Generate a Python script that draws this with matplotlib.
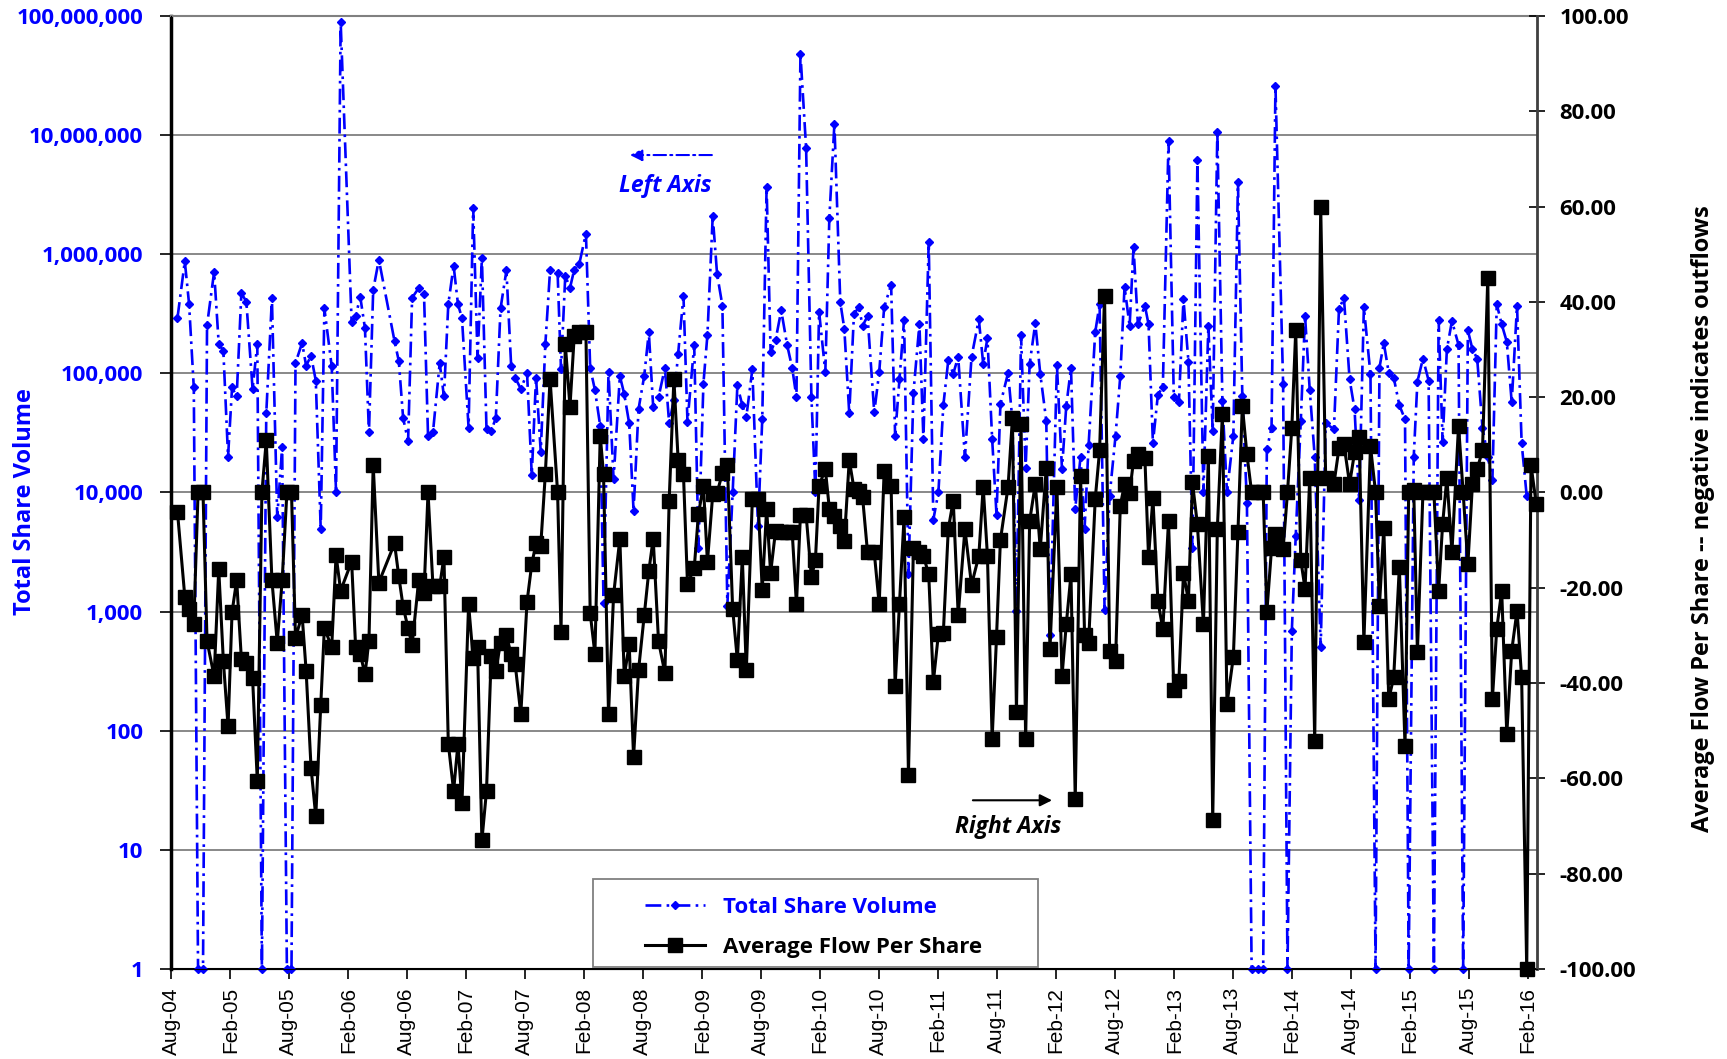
import matplotlib
matplotlib.use("Agg")
import matplotlib.pyplot as plt
import matplotlib.dates as mdates
from matplotlib.ticker import FuncFormatter, NullLocator, FixedLocator
from matplotlib.lines import Line2D
from matplotlib.patches import Rectangle
from datetime import datetime
import numpy as np

# Dates as decimal years (roughly semi-monthly)
dec_years = [
    2004.637, 2004.699, 2004.735, 2004.775, 2004.811, 2004.853, 2004.887, 2004.947, 2004.986, 2005.025,
    2005.065, 2005.099, 2005.138, 2005.178, 2005.220, 2005.273, 2005.313, 2005.352, 2005.389, 2005.437,
    2005.482, 2005.524, 2005.564, 2005.603, 2005.637, 2005.693, 2005.727, 2005.769, 2005.809, 2005.851,
    2005.882, 2005.944, 2005.981, 2006.020, 2006.113, 2006.147, 2006.186, 2006.226, 2006.260, 2006.296,
    2006.344, 2006.477, 2006.513, 2006.550, 2006.592, 2006.626, 2006.682, 2006.727, 2006.761, 2006.803,
    2006.860, 2006.896, 2006.933, 2006.978, 2007.015, 2007.049, 2007.105, 2007.144, 2007.181, 2007.218,
    2007.257, 2007.297, 2007.336, 2007.376, 2007.426, 2007.466, 2007.500, 2007.548, 2007.601, 2007.641,
    2007.677, 2007.717, 2007.756, 2007.796, 2007.860, 2007.889, 2007.925, 2007.965, 2008.001, 2008.044,
    2008.100, 2008.136, 2008.176, 2008.221, 2008.249, 2008.291, 2008.334, 2008.387, 2008.424, 2008.466,
    2008.503, 2008.545, 2008.593, 2008.632, 2008.669, 2008.714, 2008.768, 2008.804, 2008.844, 2008.880,
    2008.925, 2008.959, 2009.016, 2009.052, 2009.094, 2009.128, 2009.173, 2009.210, 2009.255, 2009.297,
    2009.342, 2009.382, 2009.424, 2009.458, 2009.509, 2009.557, 2009.593, 2009.630, 2009.664, 2009.706,
    2009.754, 2009.804, 2009.847, 2009.883, 2009.917, 2009.965, 2010.010, 2010.044, 2010.075, 2010.128,
    2010.162, 2010.205, 2010.255, 2010.289, 2010.331, 2010.371, 2010.413, 2010.444, 2010.486, 2010.543,
    2010.585, 2010.627, 2010.686, 2010.720, 2010.757, 2010.796, 2010.833, 2010.875, 2010.926, 2010.960,
    2011.005, 2011.044, 2011.087, 2011.129, 2011.171, 2011.213, 2011.255, 2011.312, 2011.368, 2011.430,
    2011.467, 2011.503, 2011.543, 2011.580, 2011.613, 2011.678, 2011.715, 2011.749, 2011.788, 2011.827,
    2011.861, 2011.909, 2011.951, 2012.002, 2012.033, 2012.092, 2012.135, 2012.171, 2012.211, 2012.247,
    2012.292, 2012.326, 2012.360, 2012.416, 2012.453, 2012.495, 2012.538, 2012.588, 2012.628, 2012.664,
    2012.707, 2012.740, 2012.777, 2012.836, 2012.867, 2012.904, 2012.946, 2012.988, 2013.036, 2013.081,
    2013.124, 2013.163, 2013.205, 2013.239, 2013.281, 2013.332, 2013.374, 2013.411, 2013.450, 2013.493,
    2013.532, 2013.586, 2013.625, 2013.662, 2013.701, 2013.741, 2013.791, 2013.839, 2013.870, 2013.910,
    2013.943, 2014.008, 2014.045, 2014.082, 2014.115, 2014.158, 2014.194, 2014.234, 2014.276, 2014.327,
    2014.369, 2014.439, 2014.482, 2014.524, 2014.572, 2014.614, 2014.653, 2014.693, 2014.749, 2014.792,
    2014.825, 2014.862, 2014.904, 2014.946, 2014.994, 2015.042, 2015.073, 2015.116, 2015.147, 2015.194,
    2015.242, 2015.287, 2015.327, 2015.361, 2015.397, 2015.440, 2015.496, 2015.535, 2015.575, 2015.614,
    2015.654, 2015.699, 2015.744, 2015.783, 2015.820, 2015.862, 2015.905, 2015.947, 2015.992, 2016.031,
    2016.074, 2016.110, 2016.155,
]

# Total share volume (left, log axis); 1 = no volume
volume = [
    292000, 870000, 383000, 76000, 1, 1, 253000, 710000, 176000, 155000,
    20000, 76000, 64000, 470000, 400000, 74000, 176000, 1, 46000, 426000,
    6200, 24000, 1, 1, 122000, 180000, 116000, 140000, 87000, 4900,
    350000, 115000, 10000, 89000000, 270000, 300000, 440000, 240000, 32000, 500000,
    900000, 186000, 127000, 42000, 27000, 430000, 520000, 460000, 30000, 32000,
    122000, 64000, 380000, 800000, 380000, 290000, 35000, 2460000, 135000, 930000,
    34000, 33000, 42000, 350000, 730000, 116000, 92000, 74000, 100000, 14000,
    92000, 22000, 175000, 730000, 700000, 108000, 660000, 520000, 740000, 830000,
    1490000, 111000, 72600, 36000, 1190, 102000, 12900, 95000, 67000, 38000,
    7000, 50000, 95000, 221000, 52000, 63000, 111000, 38000, 60000, 145000,
    445000, 39000, 173000, 3400, 82000, 210000, 2090000, 680000, 370000, 1120,
    10000, 79000, 54000, 43000, 108000, 5200, 41000, 3690000, 150000, 190000,
    337000, 173000, 111000, 63000, 48000000, 7800000, 63000, 10000, 330000, 102000,
    2000000, 12400000, 395000, 237000, 46000, 316000, 358000, 250000, 302000, 47000,
    102000, 358000, 553000, 30000, 90000, 282000, 2050, 68000, 258000, 28000,
    1270000, 5900, 10000, 54000, 129000, 99000, 138000, 19700, 137000, 284000,
    120000, 198000, 28000, 6500, 55000, 101000, 40000, 1020, 208000, 16000,
    120000, 263000, 99000, 40000, 630, 117000, 15600, 53000, 111000, 7300,
    20000, 4960, 25000, 221000, 380000, 1040, 9400, 30000, 95000, 533000,
    250000, 1140000, 258000, 370000, 258000, 26000, 66000, 77000, 8900000, 63000,
    57000, 419000, 125000, 3400, 6200000, 10000, 250000, 33000, 10700000, 59000,
    10000, 30000, 4000000, 65000, 8200, 1, 1, 1, 23000, 35000,
    26000000, 82000, 1, 690, 4300, 40000, 302000, 72000, 20000, 500,
    38000, 34000, 349000, 427000, 89000, 50000, 8700, 358000, 98000, 1,
    111000, 180000, 101000, 92000, 54000, 41000, 1, 20000, 85000, 133000,
    87000, 1, 281000, 26600, 159000, 275000, 173000, 1, 229000, 159000,
    133000, 35000, 20000, 12600, 380000, 258000, 184000, 57000, 370000, 26000,
    9300, np.nan, np.nan,
]

# Average flow per share (right axis)
flow = [
    -4.1, -21.9, -24.4, -27.6, 0, 0, -31.2, -38.6, -16.1, -35.3,
    -49.1, -25.1, -18.4, -35.0, -35.7, -39.0, -60.5, 0, 10.9, -18.4,
    -31.5, -18.4, 0, 0, -30.5, -25.7, -37.4, -57.8, -68.0, -44.7,
    -28.4, -32.5, -13.2, -20.6, -14.5, -32.5, -33.8, -38.2, -31.1, 5.8,
    -18.9, -10.7, -17.6, -24.0, -28.5, -32.0, -18.4, -21.0, 0.0, -19.7,
    -19.7, -13.5, -52.7, -62.6, -52.7, -65.2, -23.5, -34.8, -32.5, -73.0,
    -62.6, -34.3, -37.4, -31.5, -30.0, -34.0, -36.0, -46.5, -22.9, -15.0,
    -10.7, -11.2, 3.9, 23.8, 0.0, -29.3, 31.2, 18.0, 32.8, 33.6,
    33.6, -25.3, -33.9, 11.9, 3.8, -46.5, -21.5, -9.7, -38.6, -31.9,
    -55.5, -37.3, -25.7, -16.5, -9.7, -31.2, -37.9, -1.8, 23.8, 6.8,
    3.8, -19.2, -15.9, -4.5, 1.4, -14.6, -0.4, -0.1, 4.1, 5.8,
    -24.4, -35.2, -13.6, -37.3, -1.4, -1.4, -20.5, -3.4, -16.9, -8.0,
    -8.3, -8.3, -8.3, -23.5, -4.7, -4.7, -17.8, -14.2, 1.4, 4.9,
    -3.4, -5.0, -7.1, -10.2, 6.8, 0.8, 0.3, -1.0, -12.6, -12.6,
    -23.5, 4.5, 1.4, -40.6, -23.5, -5.1, -59.2, -11.7, -12.5, -13.3,
    -17.2, -39.8, -29.7, -29.4, -7.7, -1.7, -25.7, -7.7, -19.4, -13.3,
    1.2, -13.3, -51.7, -30.3, -10.0, 1.2, 15.6, -46.0, 14.3, -51.7,
    -6.0, 1.8, -11.9, 5.1, -32.9, 1.2, -38.6, -27.7, -17.2, -64.4,
    3.5, -29.9, -31.6, -1.4, 8.8, 41.2, -33.3, -35.3, -2.8, 1.8,
    -0.1, 6.7, 8.0, 7.3, -13.6, -1.2, -22.7, -28.7, -6.0, -41.5,
    -39.5, -16.9, -22.7, 2.1, -6.7, -27.7, 7.7, -68.8, -7.7, 16.5,
    -44.4, -34.5, -8.3, 18.2, 8.0, 0, 0, 0, -25.1, -11.7,
    -8.7, -11.9, 0, 13.6, 34.0, -14.2, -20.2, 3.1, -52.2, 59.8,
    3.1, 1.8, 9.3, 10.1, 1.8, 8.4, 11.7, -31.4, 9.7, 0,
    -23.8, -7.4, -43.4, -38.8, -15.6, -53.3, 0, 0.5, -33.5, 0,
    0, 0, -20.7, -6.6, 3.1, -12.5, 14.0, 0, -15.1, 1.8,
    4.9, 8.8, 45.1, -43.4, -28.6, -20.7, -50.7, -33.2, -24.8, -38.8,
    -100.0, 5.8, -2.5,
]

vol_ticks = [1, 10, 100, 1000, 10000, 100000, 1000000, 10000000, 100000000]
flow_ticks = [-100, -80, -60, -40, -20, 0, 20, 40, 60, 80, 100]


def to_date(y):
    year = int(y)
    start = datetime(year, 1, 1)
    end = datetime(year + 1, 1, 1)
    return start + (end - start) * (y - year)


dates = [to_date(y) for y in dec_years]

LABEL_FONT = ['Open Sans', 'DejaVu Sans']
BLUE = '#0000FF'
DASHDOT = (0, (6, 2, 1, 2))

fig = plt.figure(figsize=(17.27, 10.59), dpi=100)
ax = fig.add_axes([0.099, 0.085, 0.791, 0.900])
ax2 = ax.twinx()

# left axis: total share volume (log)
ax.plot(dates, volume, color=BLUE, lw=1.9, linestyle=DASHDOT,
        marker='D', markersize=4.5, markerfacecolor=BLUE, markeredgecolor=BLUE,
        clip_on=False, zorder=3)
ax.set_yscale('log')
ax.set_ylim(1, 1e8)
ax.yaxis.set_major_locator(FixedLocator(vol_ticks))
ax.yaxis.set_minor_locator(NullLocator())
ax.yaxis.set_major_formatter(FuncFormatter(lambda v, p: f'{int(round(v)):,}'))
ax.yaxis.grid(True, color='#7f7f7f', lw=1.3)
ax.set_axisbelow(True)

# right axis: average flow per share
ax2.plot(dates, flow, color='black', lw=2.2, marker='s', markersize=10,
         markerfacecolor='black', markeredgecolor='black', clip_on=False, zorder=4)
ax2.set_ylim(-100, 100)
ax2.yaxis.set_major_locator(FixedLocator(flow_ticks))
ax2.yaxis.set_major_formatter(FuncFormatter(lambda v, p: f'{v:.2f}'))

ax.set_xlim(datetime(2004, 8, 1), datetime(2016, 2, 29))
ax.xaxis.set_major_locator(mdates.MonthLocator(bymonth=(2, 8), bymonthday=1))
ax.xaxis.set_major_formatter(mdates.DateFormatter('%b-%y'))

for lab in ax.get_xticklabels():
    lab.set_rotation(90)
    lab.set_family(['Liberation Sans', 'DejaVu Sans'])
    lab.set_fontsize(15)
ax.tick_params(axis='x', direction='out', length=7, width=1.2, pad=6)
ax.tick_params(axis='y', direction='out', length=8, width=1.2, pad=12,
               labelcolor=BLUE, labelsize=16)
for lab in ax.get_yticklabels():
    lab.set_family(LABEL_FONT)
    lab.set_fontweight('bold')
ax2.tick_params(axis='y', direction='inout', length=12, width=1.2, pad=10,
                labelsize=16)
for lab in ax2.get_yticklabels():
    lab.set_family(LABEL_FONT)
    lab.set_fontweight('bold')

# spines
ax.spines['top'].set_color('#808080')
ax.spines['top'].set_linewidth(1.5)
ax.spines['left'].set_linewidth(2.5)
ax.spines['bottom'].set_linewidth(1.5)
ax2.spines['right'].set_linewidth(2.0)
ax2.spines['right'].set_color('#404040')
ax2.spines['top'].set_visible(False)

ax.set_ylabel('Total Share Volume', color=BLUE, fontsize=17, fontweight='bold',
              family=LABEL_FONT)
ax.yaxis.set_label_coords(-0.098, 0.49)
ax2.set_ylabel('Average Flow Per Share -- negative indicates outflows', fontsize=17,
               fontweight='bold', family=LABEL_FONT, rotation=90)
ax2.yaxis.set_label_coords(1.113, 0.472)

# axis call-outs
ax2.annotate('', xy=(0.334, 0.854), xytext=(0.398, 0.854), xycoords='axes fraction',
             arrowprops=dict(arrowstyle='-|>', color=BLUE, lw=1.5,
                             linestyle=DASHDOT, mutation_scale=18))
ax2.text(0.362, 0.822, 'Left Axis', transform=ax2.transAxes, color=BLUE,
         fontsize=16.5, fontweight='bold', fontstyle='italic', family=LABEL_FONT,
         ha='center', va='center')
ax2.annotate('', xy=(0.647, 0.177), xytext=(0.585, 0.177), xycoords='axes fraction',
             arrowprops=dict(arrowstyle='-|>', color='black', lw=1.5, mutation_scale=18))
ax2.text(0.613, 0.149, 'Right Axis', transform=ax2.transAxes, color='black',
         fontsize=16.5, fontweight='bold', fontstyle='italic', family=LABEL_FONT,
         ha='center', va='center')

# legend: separate frame so the inner padding can match the reference
ax2.add_patch(Rectangle((0.309, 0.002), 0.326, 0.092, transform=ax2.transAxes,
                        facecolor='white', edgecolor='#808080', lw=1.3, zorder=9,
                        clip_on=False))
handles = [
    Line2D([], [], color=BLUE, lw=1.9, linestyle=DASHDOT, marker='D', markersize=4.5),
    Line2D([], [], color='black', lw=2.2, marker='s', markersize=10),
]
leg = ax2.legend(handles, ['Total Share Volume', 'Average Flow Per Share'],
                 loc='center left', bbox_to_anchor=(0.347, 0.0436),
                 frameon=False, borderaxespad=0, borderpad=0, handlelength=2.7,
                 handletextpad=0.8, labelspacing=0.85,
                 prop={'family': LABEL_FONT, 'weight': 'bold', 'size': 16})
leg.get_texts()[0].set_color(BLUE)
leg.set_zorder(10)

fig.savefig('out.png', dpi=100)
